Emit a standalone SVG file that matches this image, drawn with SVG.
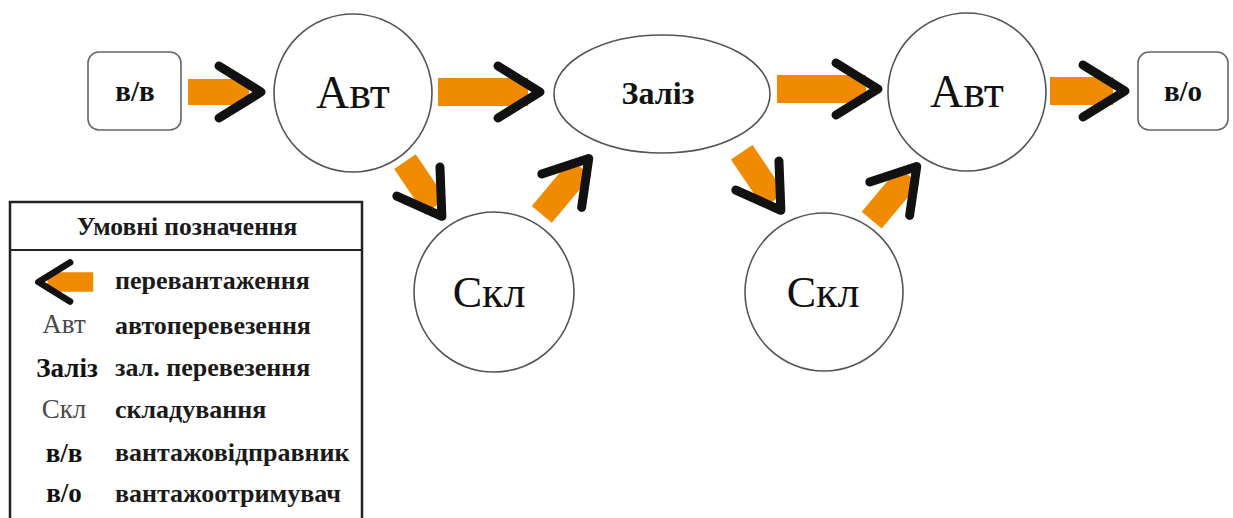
<svg xmlns="http://www.w3.org/2000/svg" xmlns:xlink="http://www.w3.org/1999/xlink" width="1233" height="518" viewBox="0 0 1233 518">
<style>
.nd{fill:#fff;stroke:#555;stroke-width:1.6}
.bx{fill:#fff;stroke:#666;stroke-width:1.6}
.t{fill:#111;text-anchor:middle}
.b{font-weight:bold}
.g{fill:#4a4a4a}
.or{fill:#F08A00}
.ch{fill:none;stroke:#111;stroke-width:9;stroke-linejoin:round;stroke-linecap:round}
.lg{fill:#1a1a1a;font-weight:bold;font-size:26px}
</style>
<defs>
<polyline id="chev" class="ch" points="-44,-26 -2,0 -44,26"/>
</defs>
<rect width="1233" height="518" fill="#fff"/>

<g id="connectors">
  <g transform="translate(263,92)"><rect class="or" x="-75" y="-13" width="61" height="26"/><use xlink:href="#chev"/></g>
  <g transform="translate(542,92)"><rect class="or" x="-104" y="-14" width="90" height="28"/><use xlink:href="#chev"/></g>
  <g transform="translate(880,89)"><rect class="or" x="-103" y="-14" width="89" height="28"/><use xlink:href="#chev"/></g>
  <g transform="translate(1127,91)"><rect class="or" x="-77" y="-14" width="63" height="28"/><use xlink:href="#chev"/></g>
  <g transform="translate(443,218) rotate(56)"><rect class="or" x="-68" y="-13" width="54" height="26"/><use xlink:href="#chev"/></g>
  <g transform="translate(590,157) rotate(-50)"><rect class="or" x="-75" y="-13" width="61" height="26"/><use xlink:href="#chev"/></g>
  <g transform="translate(782,212) rotate(56)"><rect class="or" x="-72" y="-13" width="58" height="26"/><use xlink:href="#chev"/></g>
  <g transform="translate(918,165) rotate(-50)"><rect class="or" x="-72" y="-13" width="58" height="26"/><use xlink:href="#chev"/></g>
</g>

<g font-family="Liberation Serif, Times New Roman, serif">
<g id="node-vv">
  <rect class="bx" x="88" y="52" width="93" height="78" rx="11"/>
  <text class="t b" x="135" y="101" font-size="29">в/в</text>
</g>
<g id="node-avt1">
  <circle class="nd" cx="353" cy="93" r="79"/>
  <text class="t" x="353" y="108" font-size="46">Авт</text>
</g>
<g id="node-zaliz">
  <ellipse class="nd" cx="662" cy="94" rx="108" ry="59"/>
  <text class="t b" x="658" y="104" font-size="32">Заліз</text>
</g>
<g id="node-avt2">
  <circle class="nd" cx="967" cy="92" r="79"/>
  <text class="t" x="967" y="107" font-size="46">Авт</text>
</g>
<g id="node-vo">
  <rect class="bx" x="1138" y="52" width="90" height="78" rx="11"/>
  <text class="t b" x="1183" y="101" font-size="29">в/о</text>
</g>
<g id="node-skl1">
  <circle class="nd" cx="494" cy="292" r="80"/>
  <text class="t" x="489" y="307" font-size="44">Скл</text>
</g>
<g id="node-skl2">
  <circle class="nd" cx="824" cy="292" r="79"/>
  <text class="t" x="823" y="307" font-size="44">Скл</text>
</g>

<g id="legend">
  <rect x="10" y="202" width="352" height="330" fill="#fff" stroke="#222" stroke-width="2.5"/>
  <line x1="10" y1="250" x2="362" y2="250" stroke="#222" stroke-width="2"/>
  <text x="187" y="235" text-anchor="middle" font-size="25.5" font-weight="bold" fill="#1a1a1a">Умовні позначення</text>
  <g transform="translate(37,282) rotate(180) scale(0.75)"><rect class="or" x="-75" y="-13" width="61" height="26"/><use xlink:href="#chev"/></g>
  <text class="lg" x="115" y="289">перевантаження</text>
  <text class="t g" x="64" y="333" font-size="27">Авт</text>
  <text class="lg" x="115" y="334">автоперевезення</text>
  <text class="t b" x="67" y="377" font-size="27">Заліз</text>
  <text class="lg" x="115" y="376">зал. перевезення</text>
  <text class="t g" x="64" y="418" font-size="27">Скл</text>
  <text class="lg" x="115" y="418">складування</text>
  <text class="t b" x="64" y="462" font-size="27">в/в</text>
  <text class="lg" x="115" y="461">вантажовідправник</text>
  <text class="t b" x="64" y="502" font-size="27">в/о</text>
  <text class="lg" x="115" y="502">вантажоотримувач</text>
</g>
</g>
</svg>
